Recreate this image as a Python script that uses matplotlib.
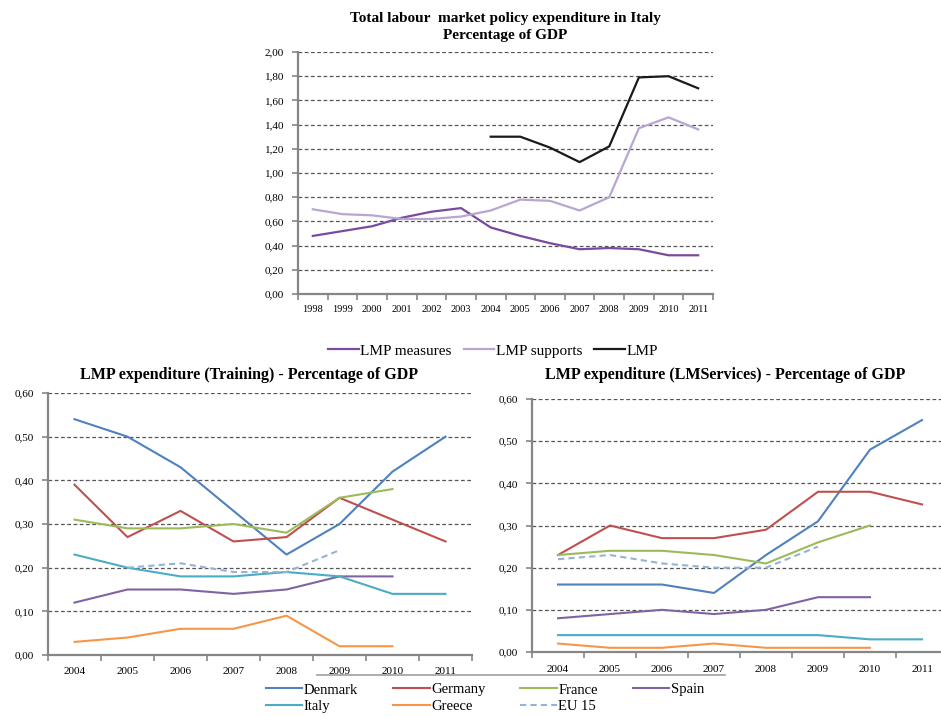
import numpy as np
import matplotlib.pyplot as plt
from matplotlib.lines import Line2D

plt.rcParams['font.family'] = ['Liberation Serif', 'DejaVu Serif']

# Italy, total LMP expenditure (% of GDP)
years_it = [1998, 1999, 2000, 2001, 2002, 2003, 2004, 2005, 2006, 2007, 2008, 2009, 2010, 2011]
lmp_measures = [0.48, 0.52, 0.56, 0.63, 0.68, 0.71, 0.55, 0.48, 0.42, 0.37, 0.38, 0.37, 0.32, 0.32]
lmp_supports = [0.70, 0.66, 0.65, 0.62, 0.62, 0.64, 0.69, 0.78, 0.77, 0.69, 0.80, 1.37, 1.46, 1.36]
lmp_total = [None, None, None, None, None, None, 1.30, 1.30, 1.21, 1.09, 1.22, 1.79, 1.80, 1.70]

# country comparison, 2004-2011
years = [2004, 2005, 2006, 2007, 2008, 2009, 2010, 2011]
countries = ["Denmark", "Germany", "France", "Spain", "Italy", "Greece", "EU 15"]

training = {
    "Denmark": [0.54, 0.50, 0.43, 0.33, 0.23, 0.30, 0.42, 0.50],
    "Germany": [0.39, 0.27, 0.33, 0.26, 0.27, 0.36, 0.31, 0.26],
    "France":  [0.31, 0.29, 0.29, 0.30, 0.28, 0.36, 0.38, None],
    "Spain":   [0.12, 0.15, 0.15, 0.14, 0.15, 0.18, 0.18, None],
    "Italy":   [0.23, 0.20, 0.18, 0.18, 0.19, 0.18, 0.14, 0.14],
    "Greece":  [0.03, 0.04, 0.06, 0.06, 0.09, 0.02, 0.02, None],
    "EU 15":   [None, 0.20, 0.21, 0.19, 0.19, 0.24, None, None],
}
services = {
    "Denmark": [0.16, 0.16, 0.16, 0.14, 0.23, 0.31, 0.48, 0.55],
    "Germany": [0.23, 0.30, 0.27, 0.27, 0.29, 0.38, 0.38, 0.35],
    "France":  [0.23, 0.24, 0.24, 0.23, 0.21, 0.26, 0.30, None],
    "Spain":   [0.08, 0.09, 0.10, 0.09, 0.10, 0.13, 0.13, None],
    "Italy":   [0.04, 0.04, 0.04, 0.04, 0.04, 0.04, 0.03, 0.03],
    "Greece":  [0.02, 0.01, 0.01, 0.02, 0.01, 0.01, 0.01, None],
    "EU 15":   [0.22, 0.23, 0.21, 0.20, 0.20, 0.25, None, None],
}

colors = {"Denmark": "#4F81BD", "Germany": "#C0504D", "France": "#9BBB59",
          "Spain": "#8064A2", "Italy": "#4BACC6", "Greece": "#F79646",
          "EU 15": "#95B3D7"}

axis_grey = "#868686"


def vals(lst):
    return np.array([np.nan if v is None else v for v in lst], dtype=float)


def comma(v):
    return ("%.2f" % v).replace(".", ",")


def style_axes(ax, n, ymax, ystep, xlabels, xfs, ylab_fs):
    ax.set_xlim(0, n)
    ax.set_ylim(0, ymax)
    yt = np.arange(0, ymax + ystep / 2, ystep)
    ax.set_yticks(yt)
    ax.set_yticklabels([comma(v) for v in yt], fontsize=ylab_fs)
    ax.set_xticks(np.arange(n + 1))
    ax.set_xticklabels([])
    ax.set_xticks(np.arange(n) + 0.5, minor=True)
    ax.set_xticklabels(xlabels, minor=True, fontsize=xfs)
    ax.tick_params(axis='x', which='minor', length=0)
    ax.tick_params(axis='x', which='major', length=4, color=axis_grey, width=1.2, direction='out')
    ax.tick_params(axis='y', length=4, color=axis_grey, width=1.2, direction='out', pad=6)
    ax.grid(axis='y', color="#555555", linestyle=(0, (3, 2)), linewidth=0.9)
    ax.set_axisbelow(True)
    for s in ['top', 'right']:
        ax.spines[s].set_visible(False)
    for s in ['left', 'bottom']:
        ax.spines[s].set_color(axis_grey)
        ax.spines[s].set_linewidth(1.6)


fig = plt.figure(figsize=(9.41, 7.16), dpi=100)

# top chart: Italy
ax0 = fig.add_axes([298 / 941, 1 - 294 / 716, 415 / 941, 242 / 716])
x0 = np.arange(len(years_it)) + 0.5
ax0.plot(x0, vals(lmp_measures), color="#7A4A9E", lw=1.6, label="LMP measures")
ax0.plot(x0, vals(lmp_supports), color="#B8A6D2", lw=1.6, label="LMP supports")
ax0.plot(x0, vals(lmp_total), color="#1A1A1A", lw=1.6, label="LMP")
style_axes(ax0, len(years_it), 2.0, 0.2, [str(y) for y in years_it], 7.5, 8)
ax0.tick_params(axis='x', which='minor', pad=8)
ax0.set_title("Total labour  market policy expenditure in Italy\nPercentage of GDP",
              fontsize=11, fontweight='bold', pad=9, linespacing=1.45)
ax0.legend(loc='upper center', bbox_to_anchor=(0.47, -0.15), ncol=3, frameon=False,
           fontsize=11, handlelength=2.0, handletextpad=0.1, columnspacing=0.8)

# bottom charts
ax1 = fig.add_axes([48 / 941, 1 - 655 / 716, 424 / 941, 262 / 716])
ax2 = fig.add_axes([532 / 941, 1 - 652 / 716, 416 / 941, 253 / 716])
x1 = np.arange(len(years)) + 0.5
for ax, data in [(ax1, training), (ax2, services)]:
    for c in countries:
        ls = (0, (3, 2)) if c == "EU 15" else "-"
        ax.plot(x1, vals(data[c]), color=colors[c], lw=1.5, linestyle=ls, label=c)
    style_axes(ax, len(years), 0.6, 0.1, [str(y) for y in years], 8, 8)
    ax.tick_params(axis='x', which='minor', pad=9)

fig.text(249 / 941, 1 - 375 / 716, "LMP expenditure (Training) - Percentage of GDP",
         ha='center', va='center', fontsize=11.5, fontweight='bold')
fig.text(725 / 941, 1 - 375 / 716, "LMP expenditure (LMServices) - Percentage of GDP",
         ha='center', va='center', fontsize=11.5, fontweight='bold')

# shared legend for the country charts
h, l = ax1.get_legend_handles_labels()
order = ["Denmark", "Italy", "Germany", "Greece", "France", "EU 15", "Spain"]
hh = [h[l.index(o)] for o in order]
fig.legend(hh, order, loc='upper center', bbox_to_anchor=(485 / 941, 1 - 676 / 716),
           ncol=4, frameon=False, fontsize=10.5, handlelength=2.5, handletextpad=0.1,
           columnspacing=2.4, labelspacing=0.2, borderaxespad=0.1)
fig.add_artist(Line2D([317 / 941, 725 / 941], [1 - 675 / 716, 1 - 675 / 716],
                      color="#A0A0A0", lw=1.2, transform=fig.transFigure))

fig.savefig("out.png", dpi=100)
